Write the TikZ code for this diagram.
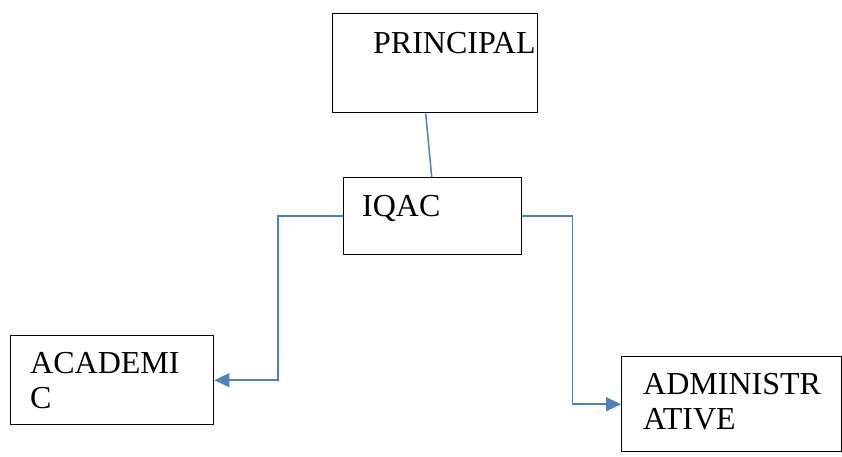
\documentclass[tikz,border=0pt]{standalone}
\usepackage{fontspec}
\setmainfont{Liberation Serif}
\usetikzlibrary{arrows.meta}

\definecolor{linkblue}{RGB}{79,129,189}

\tikzset{
  box/.style={draw=black, line width=1.4pt, anchor=north west, inner sep=0pt},
  boxtext/.style={anchor=north west, inner sep=0pt, align=left,
    font=\fontsize{32}{35}\selectfont},
  link/.style={draw=linkblue, line width=1.5pt},
}

\begin{document}
\begin{tikzpicture}[x=1pt,y=-1pt,>={Triangle[length=15pt,width=14pt]}]

\useasboundingbox (0,0) rectangle (842,457);

% Kaesten
\node[box, minimum width=205pt, minimum height=99pt] (principal) at (332,13) {};
\node[box, minimum width=178pt, minimum height=77pt] (iqac) at (343,177) {};
\node[box, minimum width=203pt, minimum height=89pt] (academic) at (10,335) {};
\node[box, minimum width=220pt, minimum height=95pt] (admin) at (621,356) {};

% Beschriftungen
\node[boxtext] (principaltext) at (373,32) {PRINCIPAL};
\node[boxtext] (iqactext) at (362,195) {IQAC};
\node[boxtext] (academictext) at (30,352) {ACADEMI\\C};
\node[boxtext] (admintext) at (643,373) {ADMINISTR\\ATIVE};

% Verbindungen
\draw[link] ([xshift=-9.5pt]principal.south) -- ([xshift=-1pt]iqac.north);
\draw[link,->] (iqac.west) -- ++(-65,0) |- (academic.east);
\draw[link,->] (iqac.east) -- ++(50,0) |- (admin.west);

\end{tikzpicture}
\end{document}
